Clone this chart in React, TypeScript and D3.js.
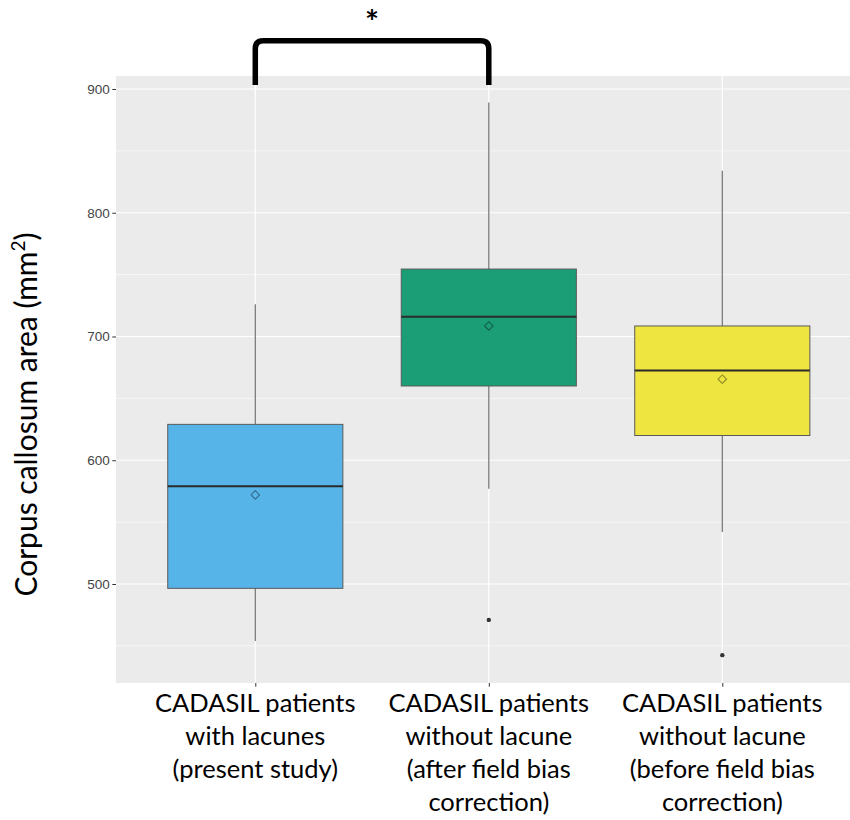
import React, { useRef, useEffect } from 'react';
import * as d3 from 'd3';

// box statistics (mm^2)
const groups = ['lacunes', 'afterCorrection', 'beforeCorrection'];
const groupLabels = [
  ['CADASIL patients', 'with lacunes', '(present study)'],
  ['CADASIL patients', 'without lacune', '(after field bias', 'correction)'],
  ['CADASIL patients', 'without lacune', '(before field bias', 'correction)'],
];
const whiskerLow = [454, 577, 542];
const q1 = [496.5, 660, 620];
const median = [579, 716, 672.5];
const q3 = [629, 754.5, 708.5];
const whiskerHigh = [726, 889, 834];
const means = [572, 708.5, 665.5];
const outliers = [[], [471], [442.5]];
const fills = ['#56B4E9', '#1B9E75', '#EEE540'];
const yTicks = [500, 600, 700, 800, 900];
const yMinorTicks = [450, 550, 650, 750, 850];
const yTitle = 'Corpus callosum area (mm';

const W = 850;
const H = 820;

const App = () => {
  const svgRef = useRef(null);

  useEffect(() => {
    document.body.style.margin = '0';
    const svg = d3.select(svgRef.current);
    svg.selectAll('*').remove();

    const panel = { left: 116, top: 76, bottom: 683, right: W };

    const y = d3.scaleLinear().domain([420, 910.5]).range([panel.bottom, panel.top]);
    const x = d3.scalePoint().domain(groups).range([255.3, 722.3]);
    const step = x.step();
    const boxW = step * 0.75;

    // panel background + grid
    svg.append('rect')
      .attr('x', panel.left).attr('y', panel.top)
      .attr('width', panel.right - panel.left).attr('height', panel.bottom - panel.top)
      .attr('fill', '#EBEBEB');

    svg.selectAll('.minor')
      .data(yMinorTicks).enter().append('line')
      .attr('x1', panel.left).attr('x2', panel.right)
      .attr('y1', (d) => y(d)).attr('y2', (d) => y(d))
      .attr('stroke', '#fff').attr('stroke-width', 0.6);

    svg.selectAll('.major')
      .data(yTicks).enter().append('line')
      .attr('x1', panel.left).attr('x2', panel.right)
      .attr('y1', (d) => y(d)).attr('y2', (d) => y(d))
      .attr('stroke', '#fff').attr('stroke-width', 1.2);

    svg.selectAll('.vgrid')
      .data(groups).enter().append('line')
      .attr('x1', (d) => x(d)).attr('x2', (d) => x(d))
      .attr('y1', panel.top).attr('y2', panel.bottom)
      .attr('stroke', '#fff').attr('stroke-width', 1.2);

    // y axis
    const yAxis = svg.append('g')
      .attr('transform', `translate(${panel.left},0)`)
      .call(d3.axisLeft(y).tickValues(yTicks).tickSize(3.7).tickPadding(2.5));
    yAxis.select('.domain').remove();
    yAxis.selectAll('line').attr('stroke', '#333');
    yAxis.selectAll('text')
      .attr('fill', '#444')
      .style('font-family', '"Liberation Sans", Arial, sans-serif')
      .style('font-size', '13.5px');

    // x axis ticks
    const xAxis = svg.append('g')
      .attr('transform', `translate(0,${panel.bottom})`)
      .call(d3.axisBottom(x).tickSize(3.7).tickFormat(() => ''));
    xAxis.select('.domain').remove();
    xAxis.selectAll('line').attr('stroke', '#333');

    // boxes
    const g = svg.append('g');
    groups.forEach((grp, i) => {
      const cx = x(grp);
      g.append('line')
        .attr('x1', cx).attr('x2', cx)
        .attr('y1', y(whiskerHigh[i])).attr('y2', y(q3[i]))
        .attr('stroke', '#7a7a7a').attr('stroke-width', 1.3);
      g.append('line')
        .attr('x1', cx).attr('x2', cx)
        .attr('y1', y(q1[i])).attr('y2', y(whiskerLow[i]))
        .attr('stroke', '#7a7a7a').attr('stroke-width', 1.3);
      g.append('rect')
        .attr('x', cx - boxW / 2).attr('width', boxW)
        .attr('y', y(q3[i])).attr('height', y(q1[i]) - y(q3[i]))
        .attr('fill', fills[i])
        .attr('stroke', '#5a5a5a').attr('stroke-width', 1);
      g.append('line')
        .attr('x1', cx - boxW / 2).attr('x2', cx + boxW / 2)
        .attr('y1', y(median[i])).attr('y2', y(median[i]))
        .attr('stroke', '#2b2b2b').attr('stroke-width', 2);
      g.append('path')
        .attr('d', d3.symbol().type(d3.symbolDiamond2).size(46)())
        .attr('transform', `translate(${cx},${y(means[i])})`)
        .attr('fill', 'none')
        .attr('stroke', d3.color(fills[i]).darker(1.4).formatHex())
        .attr('stroke-width', 1.1);
      g.selectAll(null)
        .data(outliers[i]).enter().append('circle')
        .attr('cx', cx).attr('cy', (d) => y(d))
        .attr('r', 2.2).attr('fill', '#333');
    });

    // x labels
    const labelFont = 'Lato, "Open Sans", sans-serif';
    groups.forEach((grp, i) => {
      const t = svg.append('text')
        .attr('text-anchor', 'middle')
        .attr('fill', '#000')
        .style('font-family', labelFont)
        .style('font-size', '25.5px');
      groupLabels[i].forEach((line, j) => {
        t.append('tspan').attr('x', x(grp)).attr('y', 712 + j * 33).text(line);
      });
    });

    // y title
    const yt = svg.append('text')
      .attr('transform', `translate(37,${(panel.top + panel.bottom) / 2 + 35}) rotate(-90)`)
      .attr('text-anchor', 'middle')
      .attr('fill', '#000')
      .style('font-family', labelFont)
      .style('font-size', '30px');
    yt.append('tspan').text(yTitle);
    yt.append('tspan').attr('dy', -12).style('font-size', '19px').text('2');
    yt.append('tspan').attr('dy', 12).text(')');

    // significance bracket
    const xa = x(groups[0]);
    const xb = x(groups[1]);
    const top = 40.7;
    const legBottom = 85;
    const r = 8;
    svg.append('path')
      .attr('d', `M${xa},${legBottom} V${top + r} Q${xa},${top} ${xa + r},${top} H${xb - r} Q${xb},${top} ${xb},${top + r} V${legBottom}`)
      .attr('fill', 'none')
      .attr('stroke', '#000')
      .attr('stroke-width', 5.5);
    svg.append('text')
      .attr('x', (xa + xb) / 2).attr('y', 34)
      .attr('text-anchor', 'middle')
      .style('font-family', labelFont)
      .style('font-weight', 'bold')
      .style('font-size', '33px')
      .text('*');
  }, []);

  return <svg ref={svgRef} width={W} height={H} style={{ display: 'block', background: '#fff' }}></svg>;
};

export default App;
